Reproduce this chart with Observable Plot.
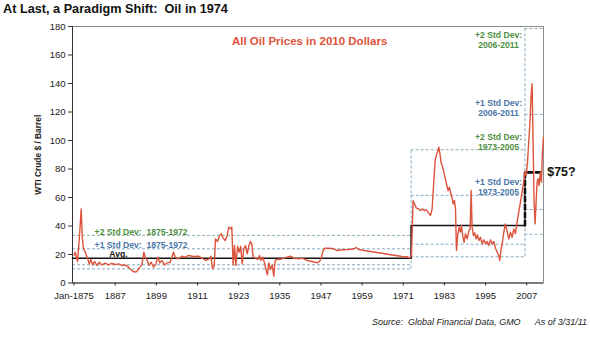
<!DOCTYPE html>
<html><head><meta charset="utf-8">
<script src="https://cdn.jsdelivr.net/npm/d3@7"></script>
<script src="https://cdn.jsdelivr.net/npm/@observablehq/plot@0.6"></script>
<style>
body{margin:0;background:#fff;font-family:"Liberation Sans",Arial,sans-serif;}
#wrap{width:590px;height:338px;position:relative;overflow:hidden;background:#fff}
#title{height:20px;box-sizing:border-box;padding:1px 0 0 3px;font-weight:bold;font-size:12.7px;line-height:16px;white-space:pre;color:#111}
#chart{height:290px}
#caption{box-sizing:border-box;padding:6px 3px 0 0;text-align:right;font-style:italic;font-size:9px;line-height:12px;white-space:pre;color:#222}
svg text{white-space:pre}
</style></head>
<body><div id="wrap">
<div id="title">At Last, a Paradigm Shift:  Oil in 1974</div>
<div id="chart"></div>
<div id="caption">Source:  Global Financial Data, GMO<span style="margin-left:14px">As of 3/31/11</span></div>
</div>
<script>
// ---- data ----
const xStart = 1874.55, xEnd = 2011.9;
const xTicks = [1875, 1887, 1899, 1911, 1923, 1935, 1947, 1959, 1971, 1983, 1995, 2007];
const xTickLabels = ["Jan-1875", "1887", "1899", "1911", "1923", "1935", "1947", "1959", "1971", "1983", "1995", "2007"];
const yTicks = [0, 20, 40, 60, 80, 100, 120, 140, 160, 180];

// WTI crude, 2010 dollars [year, price]
const oilPrice = [
[1875.0,19.5],[1875.34,21.6],[1876.02,15.1],[1876.6,33.3],[1877.09,52.0],[1877.38,33.3],[1877.67,25.1],[1878.26,21.6],[1878.84,18.1],[1879.42,13.4],
[1879.91,16.5],[1880.4,12.7],[1880.98,15.1],[1881.66,12.3],[1882.34,14.6],[1883.1,12.7],[1884.1,13.9],[1885.06,12.7],[1886.03,13.7],[1887.0,13.0],
[1887.97,13.4],[1888.95,12.3],[1889.92,12.7],[1890.89,11.1],[1891.86,8.8],[1892.64,7.6],[1893.32,8.1],[1894.0,10.4],[1894.78,12.7],[1895.36,21.6],
[1895.75,18.1],[1896.33,15.8],[1896.9,12.3],[1897.5,14.6],[1898.2,11.1],[1898.86,13.4],[1899.44,18.1],[1900.0,14.1],[1900.6,15.8],[1901.4,12.7],
[1902.06,14.1],[1903.04,14.6],[1904.0,21.6],[1904.5,18.1],[1905.5,16.9],[1906.44,18.8],[1907.4,18.1],[1908.4,19.3],[1909.84,18.6],[1911.3,18.8],
[1912.27,17.4],[1913.44,15.8],[1914.4,16.9],[1914.9,18.8],[1915.4,9.9],[1915.9,12.3],[1916.25,31.0],[1916.84,29.1],[1917.42,33.3],[1917.9,34.5],
[1918.5,31.5],[1919.07,29.8],[1919.66,33.3],[1920.14,39.2],[1920.63,38.0],[1921.0,39.2],[1921.4,12.7],[1921.8,26.3],[1922.2,12.3],[1922.7,25.8],
[1923.2,21.6],[1923.6,25.6],[1924.03,13.4],[1924.5,24.0],[1925.0,26.3],[1925.5,20.5],[1926.0,26.3],[1926.46,29.1],[1926.85,27.5],[1927.24,18.1],
[1927.9,17.4],[1928.6,16.5],[1929.08,19.3],[1929.57,15.8],[1930.05,18.1],[1930.54,14.1],[1931.03,8.8],[1931.4,5.7],[1931.8,14.1],[1932.3,9.5],
[1932.78,12.7],[1933.26,4.8],[1933.65,15.8],[1934.23,16.5],[1935.69,16.9],[1937.15,18.1],[1938.1,18.8],[1939.09,17.4],[1940.55,16.9],[1941.5,17.4],
[1942.98,15.8],[1944.44,15.1],[1945.9,14.1],[1946.58,15.1],[1947.16,18.1],[1947.65,22.8],[1948.13,24.4],[1949.3,24.4],[1950.75,24.0],[1951.7,22.8],
[1953.2,23.3],[1955.13,23.5],[1956.6,24.0],[1957.27,24.9],[1958.05,23.5],[1959.5,22.8],[1960.96,22.3],[1962.9,21.6],[1964.85,20.9],[1966.8,20.0],
[1968.73,19.3],[1970.68,18.6],[1972.1,18.4],[1972.9,17.4],[1973.4,19.3],[1973.88,57.9],[1974.27,55.5],[1974.85,52.5],[1975.44,52.0],[1976.02,50.9],
[1976.6,52.0],[1977.19,50.9],[1977.77,51.3],[1978.35,49.2],[1978.94,47.4],[1979.42,52.0],[1979.9,70.8],[1980.3,86.0],[1980.69,89.9],[1981.07,92.3],
[1981.37,95.3],[1981.66,91.3],[1982.05,84.3],[1982.43,82.0],[1982.82,77.8],[1983.31,73.1],[1983.7,68.4],[1984.09,64.9],[1984.48,67.2],[1984.87,62.6],
[1985.25,59.5],[1985.55,55.5],[1985.93,57.9],[1986.23,52.5],[1986.52,22.8],[1986.9,33.8],[1987.3,39.2],[1987.68,35.7],[1987.97,40.3],[1988.36,32.9],
[1988.75,28.6],[1989.14,34.5],[1989.63,31.0],[1990.11,36.1],[1990.5,38.0],[1990.8,64.9],[1991.08,39.2],[1991.47,33.3],[1991.86,35.2],[1992.25,31.0],
[1992.64,33.8],[1993.03,29.8],[1993.51,32.1],[1994.0,27.5],[1994.49,30.3],[1994.97,27.5],[1995.46,29.1],[1995.94,26.3],[1996.43,30.3],[1996.92,27.5],
[1997.4,29.1],[1997.89,24.4],[1998.37,21.6],[1998.86,19.3],[1999.15,15.8],[1999.54,24.0],[1999.93,28.6],[2000.32,35.7],[2000.8,41.5],[2001.29,36.1],
[2001.78,31.0],[2002.26,35.7],[2002.75,32.1],[2003.23,38.0],[2003.72,34.5],[2004.2,42.7],[2004.69,49.7],[2005.18,56.7],[2005.66,63.7],[2005.95,68.4],
[2006.24,73.1],[2006.54,78.3],[2006.83,75.4],[2007.22,84.3],[2007.6,98.8],[2008.0,115.2],[2008.28,131.6],[2008.58,139.8],[2008.87,98.8],[2009.16,56.7],
[2009.45,41.5],[2009.74,56.7],[2010.03,70.8],[2010.33,73.1],[2010.62,68.4],[2011.0,77.8],[2011.3,70.8],[2011.59,91.8],[2011.88,102.3]
];

// regime statistics
const periods = ["1875-1972", "1973-2005", "2006-2011"];
const periodStart = [1874.55, 1973.3, 2006.5];
const periodEnd = [1973.3, 2006.5, 2011.9];
const periodAvg = [17.4, 40.4, 77.6];
const plus1Sd = [24.0, 61.5, 118.3];
const plus2Sd = [33.4, 93.5, 178.6];
const lowerBandA = [12.8, 27.2, 51.6];
const lowerBandB = [9.9, 18.4, 34.2];
const futureLabel = "$75?";

// ---- derived tables ----
const bandRows = [];
periods.forEach((p, i) => {
  [["p2", plus2Sd[i]], ["p1", plus1Sd[i]], ["la", lowerBandA[i]], ["lb", lowerBandB[i]]].forEach(([k, v]) =>
    bandRows.push({kind: k, y: v, x1: periodStart[i], x2: periodEnd[i]}));
});
const boxEdges = [
  {x: periodStart[1], y1: lowerBandB[0], y2: plus2Sd[1]},
  {x: periodStart[2], y1: lowerBandB[1], y2: plus2Sd[2]}
];
const avgSolid = [
  {x: periodStart[0], y: periodAvg[0]}, {x: periodEnd[0], y: periodAvg[0]},
  {x: periodStart[1], y: periodAvg[1]}, {x: periodEnd[1], y: periodAvg[1]}
];
const avgDashed = [
  {x: periodEnd[1], y: periodAvg[1]}, {x: periodStart[2], y: periodAvg[2]}, {x: periodEnd[2], y: periodAvg[2]}
];
const prices = oilPrice.map(([x, y]) => ({x, y}));

const green = "#4f8f3f", blue = "#4a76a8", red = "#dd533b";
const rightX = 1998.8;
const rightLabels = [
  {t: "+2 Std Dev:\n" + periods[2], y: 170.6, c: green},
  {t: "+1 Std Dev:\n" + periods[2], y: 122.8, c: blue},
  {t: "+2 Std Dev:\n" + periods[1], y: 99.0, c: green},
  {t: "+1 Std Dev:\n" + periods[1], y: 67.6, c: blue}
];
const leftLabels = [
  {t: "+2 Std Dev:  " + periods[0], y: 35.6, c: green, x: 1881.0},
  {t: "+1 Std Dev:  " + periods[0], y: 26.3, c: blue, x: 1881.0},
  {t: "Avg.", y: 20.0, c: "#111", x: 1885.3}
];

const dash = {strokeDasharray: "3,2", strokeWidth: 1};
const chart = Plot.plot({
  width: 590, height: 290,
  marginTop: 6, marginBottom: 27.5, marginLeft: 72, marginRight: 47,
  style: {fontFamily: "Liberation Sans, Arial, sans-serif", fontSize: "9.5px", color: "#222", background: "#fff", overflow: "visible"},
  x: {type: "linear", domain: [xStart, xEnd]},
  y: {domain: [0, 180]},
  marks: [
    Plot.frame({stroke: "#8c8c8c"}),
    Plot.ruleY(bandRows.filter(d => d.kind === "p2"), {y: "y", x1: "x1", x2: "x2", stroke: "#8fb3a4", ...dash}),
    Plot.ruleY(bandRows.filter(d => d.kind !== "p2"), {y: "y", x1: "x1", x2: "x2", stroke: "#86a9c2", ...dash}),
    Plot.ruleX(boxEdges, {x: "x", y1: "y1", y2: "y2", stroke: "#86a9c2", ...dash}),
    Plot.axisX({ticks: xTicks, tickFormat: d => xTickLabels[xTicks.indexOf(d)], tickSize: 3, tickPadding: 6, label: null, stroke: "#333"}),
    Plot.axisY({ticks: yTicks, tickSize: 4, tickPadding: 3, label: null, stroke: "#333"}),
    Plot.ruleX([xStart], {stroke: "#333"}),
    Plot.ruleY([0], {stroke: "#333"}),
    Plot.line(avgSolid, {x: "x", y: "y", stroke: "#111", strokeWidth: 1.6}),
    Plot.line(avgDashed, {x: "x", y: "y", stroke: "#111", strokeWidth: 2.6, strokeDasharray: "5,3"}),
    Plot.line(prices, {x: "x", y: "y", stroke: red, strokeWidth: 1.4}),
    Plot.text(rightLabels, {x: () => rightX, y: "y", text: "t", fill: d => d.c, fontWeight: "bold", fontSize: 8.6, lineHeight: 1.2, textAnchor: "middle"}),
    Plot.text(leftLabels, {x: "x", y: "y", text: "t", fill: d => d.c, fontWeight: "bold", fontSize: 8.6, textAnchor: "start"}),
    Plot.text(["All Oil Prices in 2010 Dollars"], {x: () => 1943.7, y: () => 169.5, fill: red, fontWeight: "bold", fontSize: 11.5}),
    Plot.text([futureLabel], {x: () => 2013.0, y: () => periodAvg[2], fill: "#111", fontWeight: "bold", fontSize: 12.4, textAnchor: "start"}),
    Plot.text(["WTI Crude $ / Barrel"], {frameAnchor: "left", dx: -34, rotate: -90, textAnchor: "middle", fontWeight: "bold", fontSize: 8.4, fill: "#222"})
  ]
});
document.getElementById("chart").appendChild(chart);
</script>
</body></html>
